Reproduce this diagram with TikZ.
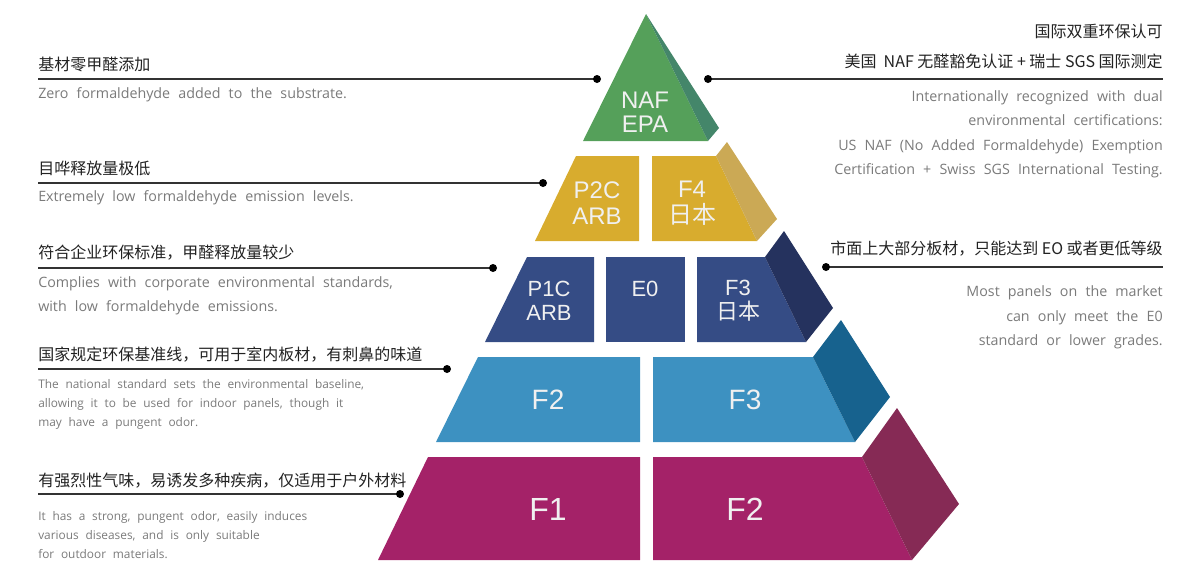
\documentclass[tikz,border=0pt]{standalone}
\usepackage{fontspec}
\setmainfont{Liberation Sans}
\newfontfamily\cjk{Noto Sans CJK SC}
\newfontfamily\engf[WordSpace={2.2}]{Open Sans}
\definecolor{gfront}{HTML}{55A05A}
\definecolor{gside}{HTML}{44866A}
\definecolor{yfront}{HTML}{D8AC2E}
\definecolor{yside}{HTML}{CBA955}
\definecolor{nfront}{HTML}{354C85}
\definecolor{nside}{HTML}{25325E}
\definecolor{bfront}{HTML}{3D91C1}
\definecolor{bside}{HTML}{17628E}
\definecolor{mfront}{HTML}{A42268}
\definecolor{mside}{HTML}{862A55}
\definecolor{titlec}{HTML}{222222}
\definecolor{grayc}{HTML}{7A7A7A}
\definecolor{linec}{HTML}{333333}
\begin{document}
\begin{tikzpicture}[x=0.75pt,y=-0.75pt,
  lbl/.style={text=white!94!black,inner sep=0pt,align=center},
  ttl/.style={font=\cjk\fontsize{12}{14}\selectfont,text=titlec,inner sep=0pt},
  eng/.style={font=\engf\fontsize{10.7}{12}\selectfont,text=grayc,inner sep=0pt},
  engs/.style={font=\engf\fontsize{8.9}{10}\selectfont,text=grayc,inner sep=0pt},
  conn/.style={draw=linec,line width=1.1pt},
  dotc/.style={fill=black}]
\useasboundingbox (0,0) rectangle (1183,562);
% ---------- pyramid ----------
% green top
\fill[gfront] (646,14) -- (708,141) -- (583,141) -- cycle;
\fill[gside] (646,14) -- (719,128) -- (708,141) -- cycle;
% yellow
\fill[yfront] (576,156) -- (639,156) -- (639,241) -- (535,241) -- cycle;
\fill[yfront] (652,156) -- (716,156) -- (757,241) -- (652,241) -- cycle;
\fill[yside] (716,156) -- (727,142) -- (777,219) -- (757,241) -- cycle;
% navy
\fill[nfront] (527,257) -- (594,257) -- (594,342) -- (485,342) -- cycle;
\fill[nfront] (606,257) -- (685,257) -- (685,342) -- (606,342) -- cycle;
\fill[nfront] (697,257) -- (765,257) -- (806,342) -- (697,342) -- cycle;
\fill[nside] (765,257) -- (784,231) -- (833,308) -- (806,342) -- cycle;
% blue
\fill[bfront] (478,357) -- (640,357) -- (640,442) -- (436,442) -- cycle;
\fill[bfront] (653,357) -- (813,357) -- (855,442) -- (653,442) -- cycle;
\fill[bside] (813,357) -- (841,320) -- (890,397) -- (855,442) -- cycle;
% magenta
\fill[mfront] (428,457) -- (640,457) -- (640,560) -- (378,560) -- cycle;
\fill[mfront] (653,457) -- (862,457) -- (912,560) -- (653,560) -- cycle;
\fill[mside] (862,457) -- (897,408) -- (959,504) -- (912,560) -- cycle;
% labels
\node[lbl,font=\fontsize{18}{18}\selectfont] (naf) at (645,112) {NAF\\EPA};
\node[lbl,font=\fontsize{18}{19.5}\selectfont] (p2c) at (597,203) {P2C\\ARB};
\node[lbl,font=\fontsize{18}{19.5}\selectfont] (f4) at (692,203) {F4\\{\cjk 日本}};
\node[lbl,font=\fontsize{16.5}{18}\selectfont] (p1c) at (549,301) {P1C\\ARB};
\node[lbl,font=\fontsize{16.5}{18}\selectfont] (e0) at (645,289) {E0};
\node[lbl,font=\fontsize{16.5}{18}\selectfont] (f3a) at (738,301) {F3\\{\cjk 日本}};
\node[lbl,font=\fontsize{21}{21}\selectfont] (f2a) at (548,400) {F2};
\node[lbl,font=\fontsize{21}{21}\selectfont] (f3b) at (745,400) {F3};
\node[lbl,font=\fontsize{24}{24}\selectfont] (f1) at (548,509) {F1};
\node[lbl,font=\fontsize{24}{24}\selectfont] (f2b) at (745,509) {F2};
% ---------- left texts ----------
\node[ttl,anchor=base west] (t1) at (38,70) {基材零甲醛添加};
\node[eng,anchor=base west] (e1) at (38,98) {Zero formaldehyde added to the substrate.};
\coordinate (l1s) at (38,79); \coordinate (l1e) at (597,79);
\draw[conn] (l1s) -- (l1e); \fill[dotc] (l1e) circle (4);

\node[ttl,anchor=base west] (t2) at (38,174) {目哗释放量极低};
\node[eng,anchor=base west] (e2) at (38,201) {Extremely low formaldehyde emission levels.};
\coordinate (l2s) at (38,183); \coordinate (l2e) at (543,183);
\draw[conn] (l2s) -- (l2e); \fill[dotc] (l2e) circle (4);

\node[ttl,anchor=base west] (t3) at (38,258) {符合企业环保标准，甲醛释放量较少};
\node[eng,anchor=base west] (e3a) at (38,287) {Complies with corporate environmental standards,};
\node[eng,anchor=base west] (e3b) at (38,311) {with low formaldehyde emissions.};
\coordinate (l3s) at (38,268); \coordinate (l3e) at (493,268);
\draw[conn] (l3s) -- (l3e); \fill[dotc] (l3e) circle (4);

\node[ttl,anchor=base west] (t4) at (38,360) {国家规定环保基准线，可用于室内板材，有刺鼻的味道};
\node[engs,anchor=base west] (e4a) at (38,388) {The national standard sets the environmental baseline,};
\node[engs,anchor=base west] (e4b) at (38,407) {allowing it to be used for indoor panels, though it};
\node[engs,anchor=base west] (e4c) at (38,426) {may have a pungent odor.};
\coordinate (l4s) at (38,369); \coordinate (l4e) at (447,369);
\draw[conn] (l4s) -- (l4e); \fill[dotc] (l4e) circle (4);

\node[ttl,anchor=base west] (t5) at (38,486) {有强烈性气味，易诱发多种疾病，仅适用于户外材料};
\node[engs,anchor=base west] (e5a) at (38,520) {It has a strong, pungent odor, easily induces};
\node[engs,anchor=base west] (e5b) at (38,539) {various diseases, and is only suitable};
\node[engs,anchor=base west] (e5c) at (38,558) {for outdoor materials.};
\coordinate (l5s) at (38,494); \coordinate (l5e) at (400,494);
\draw[conn] (l5s) -- (l5e); \fill[dotc] (l5e) circle (4);
% ---------- right texts ----------
\node[ttl,anchor=base east] (r1a) at (1163,37) {国际双重环保认可};
\node[ttl,anchor=base east] (r1b) at (1163,67) {美国\ \ NAF 无醛豁免认证 + 瑞士 SGS 国际测定};
\coordinate (r1s) at (708,79); \coordinate (r1e) at (1163,79);
\draw[conn] (r1s) -- (r1e); \fill[dotc] (r1s) circle (4);
\node[eng,anchor=base east] (g1a) at (1163,101) {Internationally recognized with dual};
\node[eng,anchor=base east] (g1b) at (1163,125) {environmental certifications:};
\node[eng,anchor=base east] (g1c) at (1163,150) {US NAF (No Added Formaldehyde) Exemption};
\node[eng,anchor=base east] (g1d) at (1163,174) {Certification + Swiss SGS International Testing.};

\node[ttl,anchor=base east] (r2) at (1163,254) {市面上大部分板材，只能达到 EO 或者更低等级};
\coordinate (r2s) at (826,267); \coordinate (r2e) at (1163,267);
\draw[conn] (r2s) -- (r2e); \fill[dotc] (r2s) circle (4);
\node[eng,anchor=base east] (g2a) at (1163,296) {Most panels on the market};
\node[eng,anchor=base east] (g2b) at (1163,321) {can only meet the E0};
\node[eng,anchor=base east] (g2c) at (1163,345) {standard or lower grades.};
\end{tikzpicture}
\end{document}
